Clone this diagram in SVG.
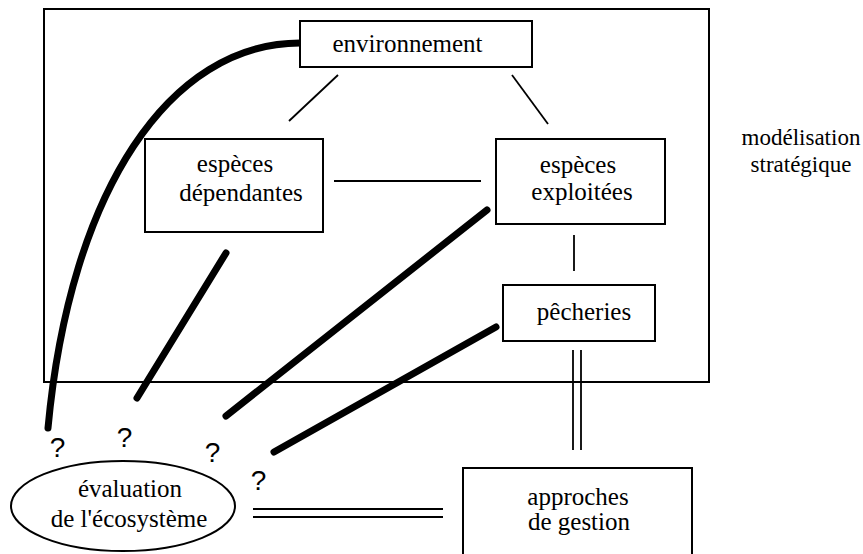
<svg xmlns="http://www.w3.org/2000/svg" width="863" height="554" viewBox="0 0 863 554">
<style>
  .box{fill:#fff;stroke:#000;stroke-width:2}
  .frame{fill:none;stroke:#000;stroke-width:2}
  .t{font-family:'Liberation Serif','DejaVu Serif','Times New Roman',Times,serif;font-size:25px;fill:#000;text-anchor:middle}
  .m{font-size:23px}
  .q{font-family:'Liberation Sans',Arial,sans-serif;font-size:28px;fill:#000;text-anchor:middle}
  .thin{stroke:#000;stroke-width:1.8;fill:none}
  .thick{stroke:#000;stroke-width:7;stroke-linecap:round;fill:none}
</style>
<rect width="863" height="554" fill="#fff"/>
<g id="frame">
  <rect class="frame" x="44" y="9" width="665" height="373"/>
</g>
<g id="connectors">
  <line class="thin" x1="338" y1="75" x2="289" y2="121"/>
  <line class="thin" x1="512" y1="75" x2="548" y2="124"/>
  <line class="thin" x1="334" y1="181" x2="481" y2="181"/>
  <line class="thin" x1="574" y1="235" x2="574" y2="271"/>
  <line class="thin" x1="573" y1="350" x2="573" y2="450"/>
  <line class="thin" x1="581" y1="350" x2="581" y2="450"/>
  <line class="thin" x1="253" y1="509" x2="443" y2="509"/>
  <line class="thin" x1="253" y1="517" x2="443" y2="517"/>
  <path class="thick" d="M300,43 C170,43 70,190 48,428"/>
  <line class="thick" x1="226" y1="253" x2="137" y2="398"/>
  <line class="thick" x1="487" y1="210" x2="226" y2="416"/>
  <line class="thick" x1="496" y1="327" x2="274" y2="452"/>
</g>
<g id="environnement">
  <rect class="box" x="300" y="21" width="232" height="46"/>
  <text class="t" x="407.5" y="52" font-family="Liberation Serif, serif">environnement</text>
</g>
<g id="especes-dependantes">
  <rect class="box" x="145" y="139" width="178" height="93"/>
  <text class="t" x="235" y="172" font-family="Liberation Serif, serif">espèces</text>
  <text class="t" x="241" y="201" font-family="Liberation Serif, serif">dépendantes</text>
</g>
<g id="especes-exploitees">
  <rect class="box" x="496" y="139" width="169" height="85"/>
  <text class="t" x="578" y="173" font-family="Liberation Serif, serif">espèces</text>
  <text class="t" x="582" y="200" font-family="Liberation Serif, serif">exploitées</text>
</g>
<g id="pecheries">
  <rect class="box" x="503" y="285" width="152" height="56"/>
  <text class="t" x="584" y="320" font-family="Liberation Serif, serif">pêcheries</text>
</g>
<g id="approches">
  <rect class="box" x="463" y="468" width="229" height="100"/>
  <text class="t" x="578" y="505" font-family="Liberation Serif, serif">approches</text>
  <text class="t" x="579" y="530" font-family="Liberation Serif, serif">de gestion</text>
</g>
<g id="evaluation">
  <ellipse class="box" cx="123" cy="506" rx="112" ry="45"/>
  <text class="t" x="130" y="497" font-family="Liberation Serif, serif">évaluation</text>
  <text class="t" x="129" y="527" font-family="Liberation Serif, serif">de l'écosystème</text>
</g>
<g id="label-modelisation">
  <text class="t m" x="801" y="145" font-family="Liberation Serif, serif">modélisation</text>
  <text class="t m" x="801" y="172" font-family="Liberation Serif, serif">stratégique</text>
</g>
<g id="questions">
  <text class="q" x="57.5" y="457">?</text>
  <text class="q" x="124.5" y="447">?</text>
  <text class="q" x="212.5" y="462">?</text>
  <text class="q" x="258.5" y="490">?</text>
</g>
</svg>
